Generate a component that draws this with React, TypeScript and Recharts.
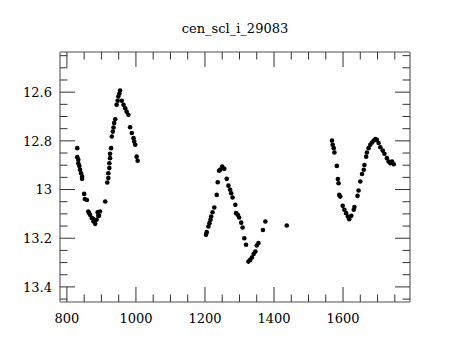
import React from 'react';
import { ScatterChart, Scatter, XAxis, YAxis } from 'recharts';

const chartTitle = 'cen_scl_i_29083';

const xDomain = [780, 1794];
const yDomain = [12.435, 13.462];

const xMajorTicks = [800, 1000, 1200, 1400, 1600];
const xTickLabels = ['800', '1000', '1200', '1400', '1600'];
const xMinorTicks = [850, 900, 950, 1050, 1100, 1150, 1250, 1300, 1350, 1450, 1500, 1550, 1650, 1700, 1750];

const yMajorTicks = [12.6, 12.8, 13, 13.2, 13.4];
const yTickLabels = ['12.6', '12.8', '13', '13.2', '13.4'];
const yMinorTicks = [12.45, 12.5, 12.55, 12.65, 12.7, 12.75, 12.85, 12.9, 12.95, 13.05, 13.1, 13.15, 13.25, 13.3, 13.35, 13.45];

// Season A
const jdA = [830, 830, 833, 833, 836, 838, 841, 844, 844, 850, 852, 858, 862, 864, 867, 872, 876, 877, 882, 886, 889, 891, 893, 896, 911,
  917, 920, 920, 923, 923, 925, 925, 928, 930, 933, 935, 937, 940, 944, 947, 949, 952, 954, 959, 964, 969, 973, 978, 983, 988, 993, 995, 998, 1002, 1005];
const magA = [12.83, 12.867, 12.878, 12.892, 12.903, 12.919, 12.933, 12.947, 12.956, 13.018, 13.039, 13.043, 13.09, 13.096, 13.104, 13.117, 13.12, 13.131, 13.141, 13.124, 13.094, 13.108, 13.108, 13.09, 13.049,
  12.971, 12.953, 12.933, 12.912, 12.892, 12.871, 12.853, 12.83, 12.782, 12.762, 12.745, 12.727, 12.711, 12.652, 12.635, 12.618, 12.607, 12.593, 12.635, 12.652, 12.666, 12.68, 12.693, 12.744, 12.768, 12.789, 12.803, 12.816, 12.865, 12.882];

// Season B
const jdB = [1203, 1205, 1210, 1213, 1216, 1218, 1222, 1227, 1234, 1237, 1241, 1244, 1249, 1250, 1256, 1263, 1268, 1273, 1276, 1280, 1288, 1290, 1295, 1299,
  1305, 1309, 1314, 1319, 1326, 1331, 1336, 1341, 1346, 1350, 1355, 1368, 1375, 1437];
const magB = [13.186, 13.175, 13.152, 13.138, 13.124, 13.111, 13.093, 13.074, 13.022, 12.97, 12.923, 12.919, 12.91, 12.906, 12.915, 12.956, 12.984, 13.001, 13.015, 13.033, 13.063, 13.097, 13.104, 13.115,
  13.136, 13.156, 13.2, 13.227, 13.296, 13.289, 13.279, 13.265, 13.255, 13.23, 13.22, 13.166, 13.131, 13.148];

// Season C
const jdC = [1568, 1570, 1573, 1575, 1582, 1585, 1587, 1589, 1592, 1599, 1604, 1609, 1614, 1618, 1624, 1631, 1633, 1642, 1645, 1650, 1655, 1660, 1662, 1667,
  1669, 1674, 1679, 1684, 1689, 1694, 1698, 1703, 1708, 1715, 1720, 1727, 1732, 1737, 1742, 1747];
const magC = [12.799, 12.816, 12.83, 12.848, 12.903, 12.957, 12.974, 13.022, 13.029, 13.067, 13.083, 13.097, 13.111, 13.122, 13.108, 13.083, 13.072, 13.026, 13.004, 12.967, 12.936, 12.919, 12.899, 12.865,
  12.848, 12.83, 12.816, 12.807, 12.799, 12.793, 12.796, 12.809, 12.826, 12.84, 12.853, 12.871, 12.885, 12.892, 12.885, 12.896];

const data = [
  ...jdA.map((x, i) => ({ x, y: magA[i] })),
  ...jdB.map((x, i) => ({ x, y: magB[i] })),
  ...jdC.map((x, i) => ({ x, y: magC[i] })),
];

const xAllTicks = [...xMajorTicks, ...xMinorTicks].sort((a, b) => a - b);
const yAllTicks = [...yMajorTicks, ...yMinorTicks].sort((a, b) => a - b);

const FONT = "'DejaVu Serif', serif";
const FRAME = '#8a8a8a';
const TICK = '#333';
const MAJOR = 15;
const MINOR = 7.5;

const findMajor = (arr: number[], v: number) => arr.findIndex((m) => Math.abs(m - v) < 1e-6);

const makeTick = (side: string) => (props: any) => {
  const { x, y, payload } = props;
  const v = payload.value;
  const isX = side === 'bottom' || side === 'top';
  const idx = findMajor(isX ? xMajorTicks : yMajorTicks, v);
  const len = idx >= 0 ? MAJOR : MINOR;
  let line;
  let label = null;
  if (side === 'bottom') {
    line = <line x1={x} y1={y} x2={x} y2={y - len} stroke={TICK} strokeWidth={1} />;
    if (idx >= 0) {
      label = (
        <text x={x} y={y + 21} textAnchor="middle" fontFamily={FONT} fontSize={13} fill="#000">
          {xTickLabels[idx]}
        </text>
      );
    }
  } else if (side === 'top') {
    line = <line x1={x} y1={y} x2={x} y2={y + len} stroke={TICK} strokeWidth={1} />;
  } else if (side === 'left') {
    line = <line x1={x} y1={y} x2={x + len} y2={y} stroke={TICK} strokeWidth={1} />;
    if (idx >= 0) {
      label = (
        <text x={x - 8} y={y} dy="0.38em" textAnchor="end" fontFamily={FONT} fontSize={13} fill="#000">
          {yTickLabels[idx]}
        </text>
      );
    }
  } else {
    line = <line x1={x} y1={y} x2={x - len} y2={y} stroke={TICK} strokeWidth={1} />;
  }
  return (
    <g>
      {line}
      {label}
    </g>
  );
};

const Dot = (props: any) => <circle cx={props.cx} cy={props.cy} r={2.3} fill="#000" />;

export default function App() {
  return (
    <div style={{ position: 'absolute', left: 0, top: 0, width: 460, height: 340, background: '#fff' }}>
      <div
        style={{
          position: 'absolute',
          left: 0,
          width: 470,
          top: 22,
          textAlign: 'center',
          fontFamily: FONT,
          fontSize: 13,
          lineHeight: '13px',
          color: '#000',
        }}
      >
        {chartTitle}
      </div>
      <ScatterChart width={460} height={340} margin={{ top: 32, right: 0, bottom: 0, left: 0 }}>
        <XAxis
          xAxisId="b"
          dataKey="x"
          type="number"
          orientation="bottom"
          domain={xDomain}
          allowDataOverflow
          ticks={xAllTicks}
          interval={0}
          height={38}
          tickSize={0}
          tickMargin={0}
          tickLine={false}
          tick={makeTick('bottom')}
          axisLine={{ stroke: FRAME, strokeWidth: 1.6 }}
        />
        <XAxis
          xAxisId="t"
          dataKey="x"
          type="number"
          orientation="top"
          domain={xDomain}
          allowDataOverflow
          ticks={xAllTicks}
          interval={0}
          height={20}
          tickSize={0}
          tickMargin={0}
          tickLine={false}
          tick={makeTick('top')}
          axisLine={{ stroke: FRAME, strokeWidth: 1.6 }}
        />
        <YAxis
          yAxisId="l"
          dataKey="y"
          type="number"
          orientation="left"
          domain={yDomain}
          reversed
          allowDataOverflow
          ticks={yAllTicks}
          interval={0}
          width={60}
          tickSize={0}
          tickMargin={0}
          tickLine={false}
          tick={makeTick('left')}
          axisLine={{ stroke: FRAME, strokeWidth: 1.6 }}
        />
        <YAxis
          yAxisId="r"
          dataKey="y"
          type="number"
          orientation="right"
          domain={yDomain}
          reversed
          allowDataOverflow
          ticks={yAllTicks}
          interval={0}
          width={50}
          tickSize={0}
          tickMargin={0}
          tickLine={false}
          tick={makeTick('right')}
          axisLine={{ stroke: FRAME, strokeWidth: 1.6 }}
        />
        <Scatter data={data} xAxisId="b" yAxisId="l" shape={Dot} isAnimationActive={false} />
      </ScatterChart>
    </div>
  );
}
